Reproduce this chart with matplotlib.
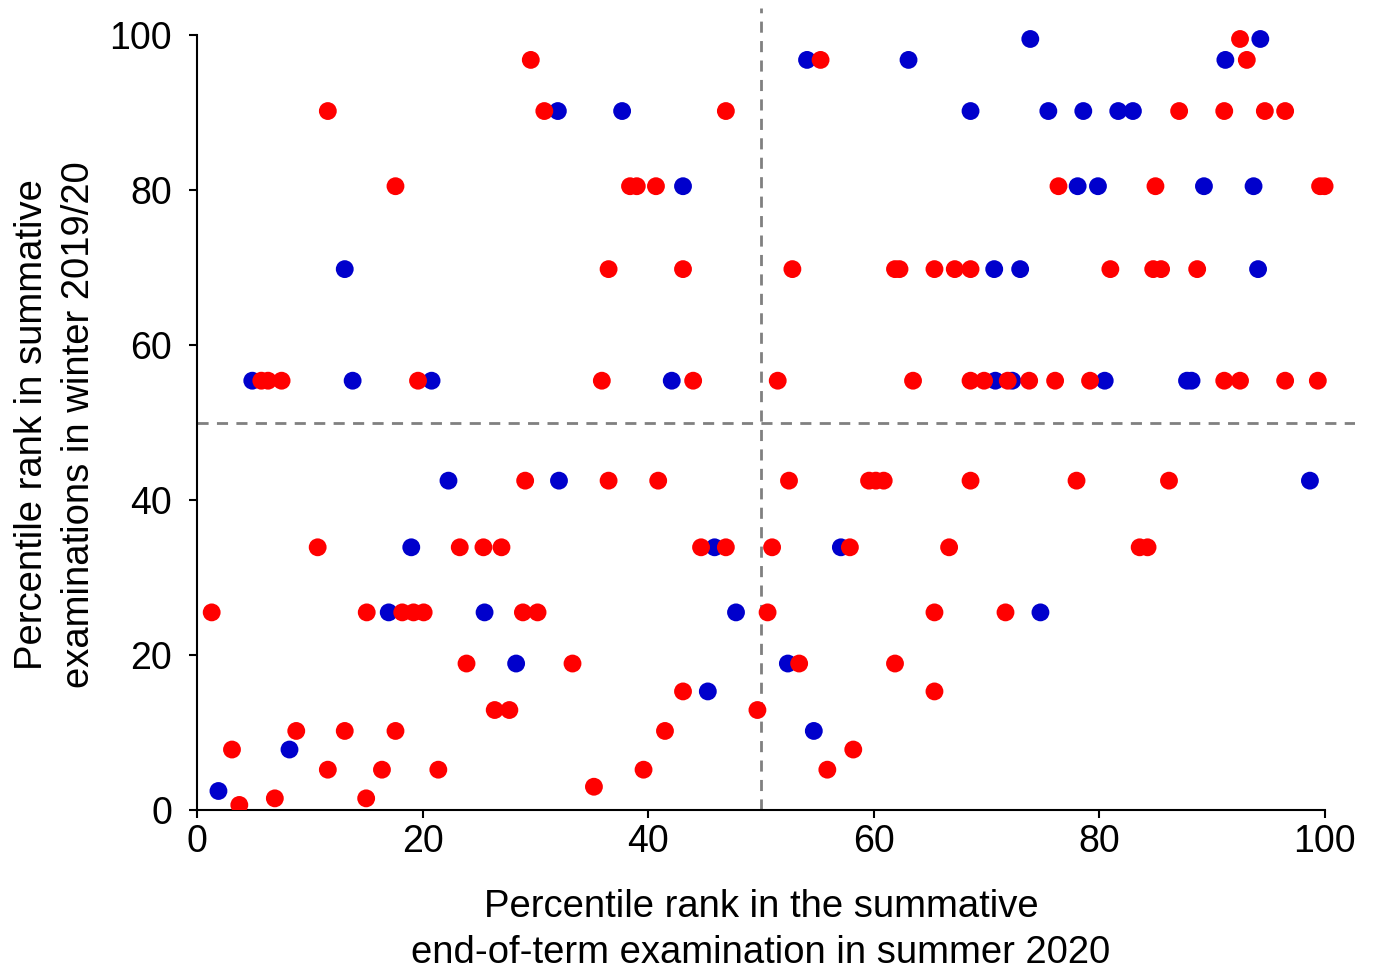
import numpy as np
import matplotlib
matplotlib.use("Agg")
import matplotlib.pyplot as plt

plt.rcParams['font.family'] = ['Liberation Sans', 'DejaVu Sans']

# blue group
blue_x = [73.9, 94.3,
          54.1, 63.1, 91.2,
          32.0, 37.7, 68.6, 75.5, 78.6, 81.7, 83.0,
          43.1, 78.1, 79.9, 89.3, 93.7,
          13.1, 70.7, 73.0, 94.1,
          4.9, 13.8, 20.8, 42.1, 70.8, 72.3, 80.5, 87.8, 88.2,
          22.3, 32.1, 98.7,
          19.0, 45.9, 57.1,
          17.0, 25.5, 47.8, 74.8,
          28.3, 52.4,
          45.3,
          54.7,
          8.2,
          1.9]
blue_y = [99.5, 99.5,
          96.8, 96.8, 96.8,
          90.2, 90.2, 90.2, 90.2, 90.2, 90.2, 90.2,
          80.5, 80.5, 80.5, 80.5, 80.5,
          69.8, 69.8, 69.8, 69.8,
          55.4, 55.4, 55.4, 55.4, 55.4, 55.4, 55.4, 55.4, 55.4,
          42.5, 42.5, 42.5,
          33.9, 33.9, 33.9,
          25.5, 25.5, 25.5, 25.5,
          18.9, 18.9,
          15.3,
          10.2,
          7.8,
          2.45]

# red group
red_x = [92.5,
         29.6, 55.3, 93.1,
         11.6, 30.8, 46.9, 87.1, 91.1, 94.7, 96.5,
         17.6, 38.4, 39.0, 40.7, 76.4, 85.0, 99.6, 100.0,
         36.5, 43.1, 52.8, 61.9, 62.3, 65.4, 67.2, 68.6, 81.0, 84.8, 85.5, 88.7,
         5.7, 6.3, 7.5, 19.6, 35.9, 44.0, 51.5, 63.5, 68.6, 69.8, 71.9, 73.8,
         76.1, 79.2, 91.1, 92.5, 96.5, 99.4,
         29.1, 36.5, 40.9, 52.5, 59.6, 60.2, 60.9, 68.6, 78.0, 86.2,
         10.7, 23.3, 25.4, 27.0, 44.7, 46.9, 51.0, 57.9, 66.7, 83.6, 84.3,
         1.3, 15.05, 18.2, 19.2, 20.1, 28.9, 30.2, 50.6, 65.4, 71.7,
         23.9, 33.3, 53.4, 61.9,
         43.1, 65.4,
         26.4, 27.7, 49.7,
         8.8, 13.1, 17.6, 41.5,
         3.1, 58.2,
         11.6, 16.4, 21.4, 39.6, 55.9,
         35.2,
         6.9, 15.0,
         3.75]
red_y = [99.5,
         96.8, 96.8, 96.8,
         90.2, 90.2, 90.2, 90.2, 90.2, 90.2, 90.2,
         80.5, 80.5, 80.5, 80.5, 80.5, 80.5, 80.5, 80.5,
         69.8, 69.8, 69.8, 69.8, 69.8, 69.8, 69.8, 69.8, 69.8, 69.8, 69.8, 69.8,
         55.4, 55.4, 55.4, 55.4, 55.4, 55.4, 55.4, 55.4, 55.4, 55.4, 55.4, 55.4,
         55.4, 55.4, 55.4, 55.4, 55.4, 55.4,
         42.5, 42.5, 42.5, 42.5, 42.5, 42.5, 42.5, 42.5, 42.5, 42.5,
         33.9, 33.9, 33.9, 33.9, 33.9, 33.9, 33.9, 33.9, 33.9, 33.9, 33.9,
         25.5, 25.5, 25.5, 25.5, 25.5, 25.5, 25.5, 25.5, 25.5, 25.5,
         18.9, 18.9, 18.9, 18.9,
         15.3, 15.3,
         12.9, 12.9, 12.9,
         10.2, 10.2, 10.2, 10.2,
         7.8, 7.8,
         5.2, 5.2, 5.2, 5.2, 5.2,
         3.0,
         1.5, 1.5,
         0.65]

ticks = [0, 20, 40, 60, 80, 100]

fig = plt.figure(figsize=(13.74, 9.74), dpi=100)
ax = fig.add_axes([0.1434, 0.1684, 0.8428, 0.8234])

ax.axvline(50, color='#808080', lw=2.0, ls=(0, (4, 3)), zorder=1)
ax.axhline(50, color='#808080', lw=2.0, ls=(0, (4, 3)), zorder=1)

ax.scatter(blue_x, blue_y, s=165, color='#0000CC', edgecolors='none', zorder=3)
ax.scatter(red_x, red_y, s=165, color='#FF0000', edgecolors='none', zorder=3)

ax.set_xlim(0, 102.7)
ax.set_ylim(0, 103.5)
ax.set_xticks(ticks)
ax.set_yticks(ticks)
ax.tick_params(direction='out', length=6, width=1.5, labelsize=27)
ax.tick_params(axis='x', pad=4)
ax.tick_params(axis='y', pad=12)

for side in ['top', 'right']:
    ax.spines[side].set_visible(False)
ax.spines['left'].set_bounds(0, 100)
ax.spines['bottom'].set_bounds(0, 100)
ax.spines['left'].set_linewidth(1.5)
ax.spines['bottom'].set_linewidth(1.5)

ax.set_xlabel('Percentile rank in the summative\nend-of-term examination in summer 2020',
              fontsize=27.5, linespacing=1.33)
ax.set_ylabel('Percentile rank in summative\nexaminations in winter 2019/20',
              fontsize=27.5, linespacing=1.4)
ax.xaxis.set_label_coords(50 / 102.7, -0.099)
ax.yaxis.set_label_coords(-0.086, 49.7 / 103.5)

plt.savefig('out.png', dpi=100)
